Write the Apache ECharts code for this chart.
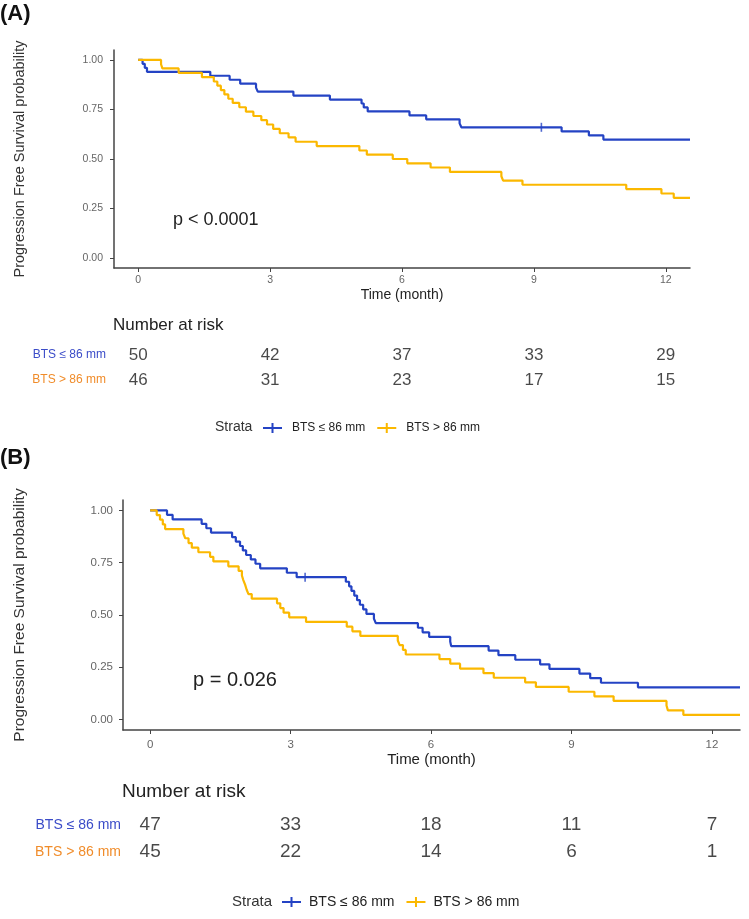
<!DOCTYPE html>
<html>
<head>
<meta charset="utf-8">
<script src="https://cdn.jsdelivr.net/npm/echarts@6/dist/echarts.min.js"></script>
<style>
html,body{margin:0;padding:0;background:#fff;}
#chart{width:749px;height:919px;}
</style>
</head>
<body>
<div id="chart"></div>
<script>
// ---------- data ----------
const strata = ['BTS ≤ 86 mm', 'BTS > 86 mm'];
const timeTicks = [0, 3, 6, 9, 12];
const probTicks = [0, 0.25, 0.5, 0.75, 1];

// Panel A: Kaplan–Meier steps [time (month), survival]
const kmA_low = [[0,1],[0.1,0.98],[0.15,0.96],[0.2,0.94],[1.64,0.92],[2.08,0.90],[2.32,0.88],[2.68,0.86],[2.72,0.84],[3.53,0.82],[4.36,0.80],[5.08,0.78],[5.13,0.76],[5.22,0.74],[6.17,0.72],[6.55,0.70],[7.31,0.68],[7.35,0.66],[9.63,0.639],[10.25,0.619],[10.58,0.598],[12.55,0.598]];
const kmA_high = [[0,1],[0.52,0.978],[0.55,0.957],[0.92,0.935],[1.45,0.913],[1.72,0.891],[1.8,0.870],[1.88,0.848],[1.96,0.826],[2.05,0.804],[2.15,0.783],[2.3,0.761],[2.45,0.739],[2.62,0.717],[2.8,0.696],[2.93,0.674],[3.07,0.652],[3.22,0.630],[3.42,0.609],[3.58,0.587],[4.06,0.565],[5.03,0.543],[5.2,0.522],[5.79,0.5],[6.12,0.478],[6.65,0.457],[7.09,0.435],[8.26,0.413],[8.3,0.391],[8.74,0.370],[11.1,0.348],[11.9,0.326],[12.18,0.304],[12.55,0.304]];
const censorA_low = [[9.17,0.66]];
const riskA_low = [50, 42, 37, 33, 29];
const riskA_high = [46, 31, 23, 17, 15];
const pA = 'p < 0.0001';

// Panel B
const kmB_low = [[0,1],[0.36,0.979],[0.48,0.957],[1.1,0.936],[1.2,0.915],[1.3,0.894],[1.75,0.872],[1.83,0.851],[1.92,0.830],[1.98,0.809],[2.05,0.787],[2.15,0.766],[2.25,0.745],[2.35,0.723],[2.92,0.702],[3.13,0.681],[4.18,0.659],[4.25,0.637],[4.3,0.615],[4.36,0.593],[4.42,0.571],[4.48,0.549],[4.55,0.527],[4.62,0.505],[4.78,0.483],[4.82,0.461],[5.72,0.439],[5.82,0.417],[5.96,0.395],[6.41,0.373],[6.43,0.351],[7.23,0.330],[7.44,0.308],[7.8,0.286],[8.33,0.264],[8.53,0.242],[9.17,0.220],[9.4,0.198],[9.63,0.176],[10.42,0.154],[12.6,0.154]];
const kmB_high = [[0,1],[0.14,0.978],[0.21,0.956],[0.27,0.933],[0.32,0.911],[0.71,0.889],[0.75,0.867],[0.82,0.844],[0.89,0.822],[1.03,0.8],[1.28,0.778],[1.35,0.756],[1.67,0.733],[1.89,0.711],[1.96,0.689],[1.99,0.667],[2.03,0.644],[2.06,0.622],[2.1,0.6],[2.17,0.578],[2.71,0.556],[2.78,0.533],[2.85,0.511],[2.97,0.489],[3.33,0.467],[4.2,0.444],[4.32,0.422],[4.49,0.4],[5.29,0.378],[5.33,0.356],[5.4,0.333],[5.46,0.311],[6.18,0.289],[6.41,0.267],[6.62,0.244],[7.12,0.222],[7.34,0.2],[8.01,0.178],[8.24,0.156],[8.94,0.133],[9.49,0.111],[9.9,0.089],[11.03,0.067],[11.06,0.044],[11.39,0.022],[12.6,0.022]];
const censorB_low = [[3.31,0.681]];
const riskB_low = [47, 33, 18, 11, 7];
const riskB_high = [45, 22, 14, 6, 1];
const pB = 'p = 0.026';

// ---------- style ----------
const FONT = '"Liberation Sans", Arial, Helvetica, sans-serif';
const BLUE = '#2443c4';
const YELLOW = '#fbb800';
const LABEL_COLORS = ['#3b4cc8', '#f08c2a'];
const AXIS = '#444';
const PLUS = 'path://M0,4 H19 V6 H0 Z M8.5,0 H10.5 V10 H8.5 Z';

const chart = echarts.init(document.getElementById('chart'), null, {renderer: 'canvas'});

function panel(idx, cfg) {
  const g = idx * 2;
  const grids = [
    {left: cfg.left, right: cfg.right, top: cfg.top, height: cfg.height},
    {left: cfg.left, right: cfg.right, top: cfg.riskTop, height: cfg.riskHeight}
  ];
  const xAxes = [
    {type: 'value', gridIndex: g, min: cfg.xmin, max: cfg.xmax,
      name: 'Time (month)', nameLocation: 'middle', nameGap: cfg.xNameGap,
      nameTextStyle: {fontFamily: FONT, fontSize: cfg.xNameSize, color: '#222'},
      axisLine: {show: true, onZero: false, lineStyle: {color: AXIS, width: 1.5}},
      axisTick: {show: true, customValues: timeTicks, length: 4, lineStyle: {color: AXIS}},
      axisLabel: {customValues: timeTicks, margin: cfg.xLabelMargin, fontFamily: FONT, fontSize: cfg.tickSize, color: '#666'},
      splitLine: {show: false}},
    {type: 'value', gridIndex: g + 1, min: cfg.xmin, max: cfg.xmax, show: false}
  ];
  const yAxes = [
    {type: 'value', gridIndex: g, min: -0.05, max: 1.05,
      name: 'Progression Free Survival probability', nameLocation: 'middle', nameGap: cfg.yNameGap,
      nameTextStyle: {fontFamily: FONT, fontSize: cfg.yNameSize, color: '#333'},
      axisLine: {show: true, onZero: false, lineStyle: {color: AXIS, width: 1.5}},
      axisTick: {show: true, customValues: probTicks, length: 4, lineStyle: {color: AXIS}},
      axisLabel: {customValues: probTicks, margin: cfg.yLabelMargin, fontFamily: FONT, fontSize: cfg.tickSize, color: '#666',
        formatter: v => v.toFixed(2)},
      splitLine: {show: false}},
    {type: 'category', gridIndex: g + 1, data: strata, inverse: true,
      axisLine: {show: false}, axisTick: {show: false},
      axisLabel: {margin: cfg.rowLabelMargin, fontFamily: FONT, fontSize: cfg.rowLabelSize,
        color: (v, i) => LABEL_COLORS[i]}}
  ];
  const lineS = (name, data, color) => ({
    type: 'line', name: name, xAxisIndex: g, yAxisIndex: g, data: data, step: 'end',
    showSymbol: false, symbol: 'none', lineStyle: {color: color, width: 2.2}, itemStyle: {color: color},
    animation: false, z: 3
  });
  const riskLabel = {show: true, position: 'inside', formatter: p => p.value[2], fontFamily: FONT, fontSize: cfg.riskSize, color: '#1a1a1a'};
  const series = [
    lineS(strata[0], cfg.low, BLUE),
    lineS(strata[1], cfg.high, YELLOW),
    {type: 'scatter', name: strata[0], xAxisIndex: g, yAxisIndex: g, data: cfg.censor,
      symbol: 'rect', symbolSize: [1.6, 9], itemStyle: {color: BLUE}, animation: false, z: 4, silent: true},
    {type: 'scatter', xAxisIndex: g + 1, yAxisIndex: g + 1,
      data: timeTicks.map((t, i) => [t, strata[0], cfg.riskLow[i]]),
      symbolSize: 0, animation: false, silent: true, label: riskLabel},
    {type: 'scatter', xAxisIndex: g + 1, yAxisIndex: g + 1,
      data: timeTicks.map((t, i) => [t, strata[1], cfg.riskHigh[i]]),
      symbolSize: 0, animation: false, silent: true, label: riskLabel}
  ];
  const legend = {
    left: cfg.legendLeft, top: cfg.legendTop, orient: 'horizontal',
    data: strata.map(s => ({name: s, icon: PLUS})),
    itemWidth: 19, itemHeight: 10, itemGap: cfg.legendGap, selectedMode: false, padding: 0,
    textStyle: {fontFamily: FONT, fontSize: cfg.legendSize, color: '#222', padding: [0, 0, 0, cfg.legendTextPad]}
  };
  const graphics = [
    {type: 'text', x: 0, y: cfg.tagY, style: {text: cfg.tag, font: 'bold 22px ' + FONT, fill: '#111', verticalAlign: 'middle'}},
    {type: 'text', x: cfg.pX, y: cfg.pY, style: {text: cfg.p, fontFamily: FONT, fontSize: cfg.pSize, fill: '#222', verticalAlign: 'middle'}},
    {type: 'text', x: cfg.narX, y: cfg.narY, style: {text: 'Number at risk', fontFamily: FONT, fontSize: cfg.narSize, fill: '#222', verticalAlign: 'middle'}},
    {type: 'text', x: cfg.strataX, y: cfg.strataY, style: {text: 'Strata', fontFamily: FONT, fontSize: cfg.strataSize, fill: '#333', verticalAlign: 'middle'}}
  ];
  return {grids, xAxes, yAxes, series, legend, graphics};
}

const A = panel(0, {
  left: 114, right: 59, top: 50, height: 218, riskTop: 342.5, riskHeight: 50,
  xmin: -0.55, xmax: 12.55, xNameGap: 20, xNameSize: 14, tickSize: 10.5, xLabelMargin: 7, yLabelMargin: 11,
  yNameGap: 87, yNameSize: 14.5, rowLabelMargin: 8, rowLabelSize: 12,
  low: kmA_low, high: kmA_high, censor: censorA_low, riskLow: riskA_low, riskHigh: riskA_high, riskSize: 17,
  legendLeft: 263, legendTop: 422, legendGap: 12, legendTextPad: 5, legendSize: 12, strataX: 215, strataY: 427, strataSize: 14,
  tag: '(A)', tagY: 14, p: pA, pX: 173, pY: 220, pSize: 18, narX: 113, narY: 325, narSize: 17
});
const B = panel(1, {
  left: 123, right: 9, top: 500, height: 230, riskTop: 811.5, riskHeight: 54,
  xmin: -0.58, xmax: 12.6, xNameGap: 22, xNameSize: 15, tickSize: 11.5, xLabelMargin: 9, yLabelMargin: 10,
  yNameGap: 95, yNameSize: 15.5, rowLabelMargin: 2, rowLabelSize: 14,
  low: kmB_low, high: kmB_high, censor: censorB_low, riskLow: riskB_low, riskHigh: riskB_high, riskSize: 19,
  legendLeft: 282, legendTop: 895, legendGap: 12, legendTextPad: 3, legendSize: 14, strataX: 232, strataY: 902, strataSize: 15,
  tag: '(B)', tagY: 458, p: pB, pX: 193, pY: 680, pSize: 20, narX: 122, narY: 792, narSize: 19
});

chart.setOption({
  backgroundColor: '#fff',
  animation: false,
  grid: [...A.grids, ...B.grids],
  xAxis: [...A.xAxes, ...B.xAxes],
  yAxis: [...A.yAxes, ...B.yAxes],
  legend: [A.legend, B.legend],
  series: [...A.series, ...B.series],
  graphic: [...A.graphics, ...B.graphics]
});
</script>
</body>
</html>
